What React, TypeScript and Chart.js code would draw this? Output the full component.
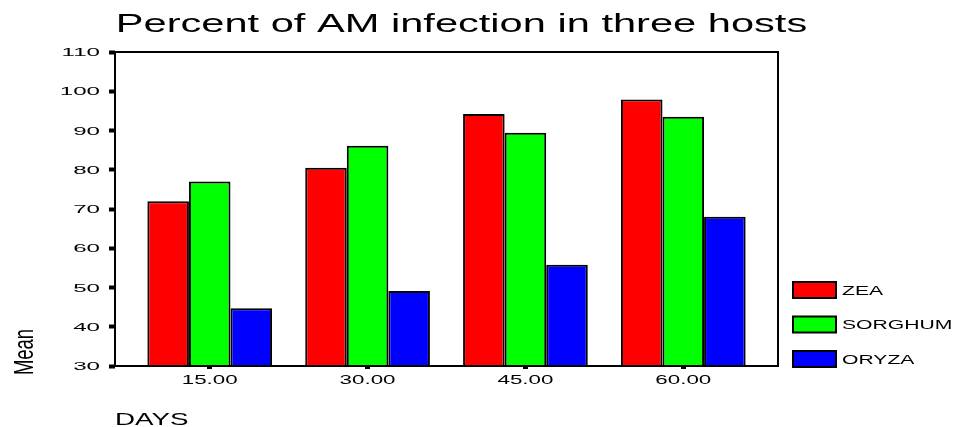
import React, { useEffect, useRef } from "react";
import { Chart, registerables } from "chart.js";

Chart.register(...registerables);

const days = [15, 30, 45, 60];
const zea = [72.0, 80.5, 94.2, 97.9];
const sorghum = [77.0, 86.1, 89.4, 93.5];
const oryza = [44.7, 49.1, 55.8, 68.0];
const seriesNames = ["ZEA", "SORGHUM", "ORYZA"];
const seriesColors = ["#ff0000", "#00ff00", "#0000ff"];
const titleText = "Percent of AM infection in three hosts";
const yTitle = "Mean";
const xTitle = "DAYS";

const FONT = '"Liberation Sans", Arial, sans-serif';

function drawStretched(
  ctx: CanvasRenderingContext2D,
  text: string,
  x: number,
  y: number,
  size: number,
  sx: number,
  align: CanvasTextAlign,
  baseline: CanvasTextBaseline
) {
  ctx.save();
  ctx.translate(x, y);
  ctx.scale(sx, 1);
  ctx.font = `${size}px ${FONT}`;
  ctx.fillStyle = "#000";
  ctx.textAlign = align;
  ctx.textBaseline = baseline;
  ctx.fillText(text, 0, 0);
  ctx.restore();
}

const decorPlugin = {
  id: "decor",
  afterDatasetsDraw(chart: any) {
    const { ctx, chartArea } = chart;
    const { left, top, right, bottom } = chartArea;
    ctx.save();
    ctx.strokeStyle = "#000";
    ctx.lineWidth = 2;
    ctx.strokeRect(left, top, right - left, bottom - top);
    ctx.restore();
  },
  afterDraw(chart: any) {
    const { ctx, chartArea } = chart;
    const xs = chart.scales.x;
    const ys = chart.scales.y;
    // title
    drawStretched(ctx, titleText, 461.5, 32, 26, 1.6, "center", "alphabetic");
    // y tick labels
    ys.ticks.forEach((t: any) => {
      const py = ys.getPixelForValue(t.value);
      drawStretched(ctx, String(t.value), chartArea.left - 15, py + 4, 11.5, 2.1, "right", "alphabetic");
    });
    // x tick labels
    xs.ticks.forEach((t: any) => {
      const px = xs.getPixelForValue(t.value);
      drawStretched(ctx, Number(t.value).toFixed(2), px, 383.5, 13, 1.72, "center", "alphabetic");
    });
    // y title (condensed, rotated)
    ctx.save();
    ctx.translate(33, 352);
    ctx.rotate(-Math.PI / 2);
    ctx.scale(0.66, 1);
    ctx.font = `28px ${FONT}`;
    ctx.fillStyle = "#000";
    ctx.textAlign = "center";
    ctx.textBaseline = "alphabetic";
    ctx.fillText(yTitle, 0, 0);
    ctx.restore();
    // x title
    drawStretched(ctx, xTitle, 115, 425, 17, 1.63, "left", "alphabetic");
    // legend
    const ds = chart.data.datasets;
    const boxX = 793;
    const boxW = 43;
    const boxH = 16;
    const y0 = 290;
    const step = 34.5;
    ds.forEach((d: any, i: number) => {
      const cy = y0 + i * step;
      ctx.save();
      ctx.fillStyle = d.backgroundColor;
      ctx.fillRect(boxX, cy - boxH / 2, boxW, boxH);
      ctx.strokeStyle = "#000";
      ctx.lineWidth = 2;
      ctx.strokeRect(boxX, cy - boxH / 2, boxW, boxH);
      ctx.restore();
      drawStretched(ctx, d.label, 842, cy + 4.5, 12.5, 1.69, "left", "alphabetic");
    });
  },
};

export default function App() {
  const ref = useRef<HTMLCanvasElement | null>(null);
  useEffect(() => {
    if (!ref.current) return;
    const chart = new Chart(ref.current, {
      type: "bar",
      data: {
        labels: days,
        datasets: [zea, sorghum, oryza].map((vals, i) => ({
          label: seriesNames[i],
          data: vals,
          backgroundColor: seriesColors[i],
          borderColor: "#000",
          borderWidth: 2,
          barPercentage: 1,
          categoryPercentage: 0.79,
        })),
      },
      options: {
        responsive: false,
        animation: false,
        layout: { padding: { left: 100, right: 176, top: 52, bottom: 51 } },
        plugins: {
          legend: { display: false },
          title: { display: false },
          tooltip: { enabled: false },
        },
        scales: {
          x: {
            type: "linear",
            min: 6,
            max: 69,
            offset: false,
            afterBuildTicks: (axis: any) => {
              axis.ticks = days.map((v) => ({ value: v }));
            },
            afterFit: (scale: any) => {
              scale.height = 10;
            },
            ticks: { display: false },
            border: { display: false },
            grid: {
              offset: false,
              drawOnChartArea: false,
              drawTicks: true,
              tickLength: 3,
              tickWidth: 5,
              tickColor: "#000",
            },
          },
          y: {
            min: 30,
            max: 110,
            afterFit: (scale: any) => {
              scale.width = 15;
            },
            ticks: { display: false, stepSize: 10 },
            border: { display: false },
            grid: {
              drawOnChartArea: false,
              drawTicks: true,
              tickLength: 6,
              tickWidth: 4,
              tickColor: "#000",
            },
          },
        },
      },
      plugins: [decorPlugin],
    } as any);
    return () => chart.destroy();
  }, []);
  return (
    <div style={{ position: "fixed", left: 0, top: 0, width: 954, height: 427, background: "#fff" }}>
      <canvas ref={ref} width={954} height={427} style={{ display: "block" }} />
    </div>
  );
}
